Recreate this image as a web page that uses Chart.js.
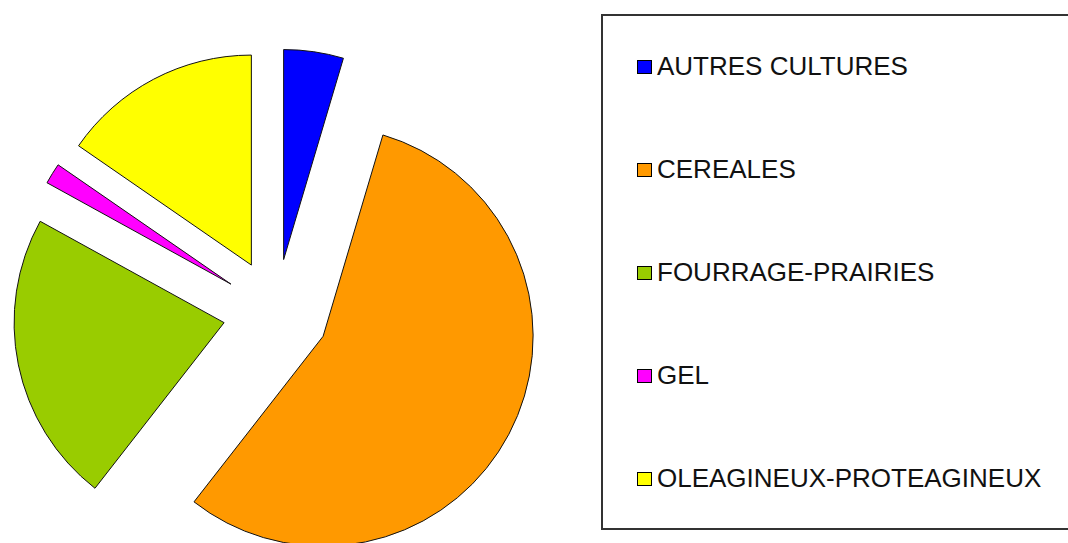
<!DOCTYPE html>
<html>
<head>
<meta charset="utf-8">
<title>Répartition des cultures</title>
<script src="https://cdn.jsdelivr.net/npm/chart.js@4/dist/chart.umd.min.js"></script>
<style>
  html, body { margin: 0; padding: 0; background: #fff; overflow: hidden; }
  body { width: 1068px; height: 543px; position: relative; }
  #chart-wrap { position: absolute; left: 0; top: 0; width: 600px; height: 543px; }
  #legend {
    position: absolute; left: 601px; top: 14px; width: 520px; height: 512px;
    border: 2px solid #333; box-sizing: content-box;
    font-family: "Liberation Sans", Arial, sans-serif; font-size: 26px; color: #111;
  }
  #legend ul { list-style: none; margin: 0; padding: 0; position: absolute; top: -1px; left: 34px; }
  #legend li { height: 103px; display: flex; align-items: center; white-space: nowrap; }
  #legend .swatch {
    display: inline-block; width: 13px; height: 12px; border: 1px solid #000;
    margin-right: 5px; margin-top: 1px;
  }
</style>
</head>
<body>
<div id="chart-wrap"><canvas id="pieChart"></canvas></div>
<div id="legend"><ul id="legend-list"></ul></div>

<script>
// ── Data ─────────────────────────────────────────────────────────────────────

const CATEGORIES = ['AUTRES CULTURES', 'CEREALES', 'FOURRAGE-PRAIRIES', 'GEL', 'OLEAGINEUX-PROTEAGINEUX'];
const SHARES = [4.6, 56.0, 22.5, 1.6, 15.4];
const COLORS = ['#0000ff', '#ff9900', '#99cc00', '#ff00ff', '#ffff00'];

// ── Exploded pie: every slice pulled out along its bisector ─────────────────

class ExplodedArc extends Chart.ArcElement {
  draw(ctx) {
    const { x, y, startAngle, endAngle, outerRadius } = this;
    const opts = this.options;
    const mid = (startAngle + endAngle) / 2;
    const d = opts.offset || 0;

    ctx.save();
    ctx.translate(Math.cos(mid) * d, Math.sin(mid) * d);
    ctx.beginPath();
    ctx.moveTo(x, y);
    ctx.arc(x, y, outerRadius, startAngle, endAngle);
    ctx.closePath();
    ctx.fillStyle = opts.backgroundColor;
    ctx.fill();
    ctx.lineWidth = opts.borderWidth;
    ctx.strokeStyle = opts.borderColor;
    ctx.lineJoin = 'miter';
    ctx.stroke();
    ctx.restore();
  }
}
ExplodedArc.id = 'explodedArc';

class ExplodedPieController extends Chart.PieController {}
ExplodedPieController.id = 'explodedPie';
ExplodedPieController.defaults = { dataElementType: 'explodedArc' };

Chart.register(ExplodedArc, ExplodedPieController);

// ── Chart ────────────────────────────────────────────────────────────────────

new Chart(document.getElementById('pieChart').getContext('2d'), {
  type: 'explodedPie',
  data: {
    labels: CATEGORIES,
    datasets: [{
      data: SHARES,
      backgroundColor: COLORS,
      borderColor: '#111',
      borderWidth: 1,
      offset: 53,
    }],
  },
  options: {
    responsive: true,
    maintainAspectRatio: false,
    animation: false,
    radius: 210,
    layout: { padding: { left: 0, right: 48, top: 81, bottom: 0 } },
    plugins: { legend: { display: false }, tooltip: { enabled: false } },
  },
});

// ── Legend ───────────────────────────────────────────────────────────────────

const list = document.getElementById('legend-list');
CATEGORIES.forEach((name, i) => {
  const li = document.createElement('li');
  const sw = document.createElement('span');
  sw.className = 'swatch';
  sw.style.background = COLORS[i];
  li.appendChild(sw);
  li.appendChild(document.createTextNode(name));
  list.appendChild(li);
});
</script>
</body>
</html>
